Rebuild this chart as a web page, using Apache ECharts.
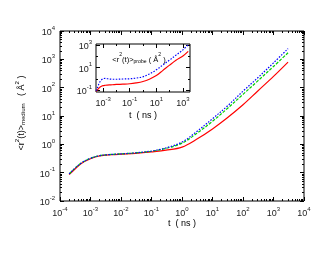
<!DOCTYPE html>
<html><head><meta charset="utf-8">
<script src="https://cdn.jsdelivr.net/npm/echarts@6/dist/echarts.min.js"></script>
<style>html,body{margin:0;padding:0;background:#fff}#c{width:330px;height:255px}</style>
</head><body><div id="c"></div>
<script>
// ---- data ----
const mainTime  = [2e-4,3e-4,5e-4,1e-3,2e-3,5e-3,1e-2,3e-2,0.1,0.3,1,3,10,30,100,300,1000,3000];
const mainBlue  = [0.09,0.14,0.22,0.32,0.40,0.44,0.46,0.50,0.58,0.75,1.2,2.8,8,22,75,220,750,2400];
const mainGreen = [0.09,0.14,0.22,0.32,0.40,0.44,0.46,0.50,0.57,0.72,1.1,2.4,6.5,18,58,170,560,1700];
const mainRed   = [0.085,0.13,0.21,0.31,0.39,0.43,0.45,0.48,0.54,0.62,0.8,1.5,3.5,8.5,25,75,250,800];

const insetTime = [3e-4,4e-4,5e-4,7e-4,1e-3,1.5e-3,2e-3,3e-3,5e-3,1e-2,3e-2,0.1,0.3,1,3,10,30,100,300,1000,2500];
const insetBlue = [0.09,0.2,0.4,0.75,1.05,1.15,1.1,1.0,0.95,0.95,1.0,1.05,1.2,1.6,2.8,6.5,17,48,130,380,1100];
const insetRed  = [0.08,0.12,0.16,0.22,0.26,0.28,0.29,0.30,0.31,0.33,0.35,0.38,0.45,0.6,0.95,2.0,5.5,17,45,110,280];

const mainXExp  = [-4,-3,-2,-1,0,1,2,3,4];
const mainYExp  = [-2,-1,0,1,2,3,4];
const insetXExp = [-3,-1,1,3];
const insetYExp = [-1,1,3];
const insetXMinorExp = [-2,0,2];
const insetYMinorExp = [0,2];

// ---- helpers ----
const FONT = 'Liberation Sans';
const TXT = '#222';
const rich = {
  b: {fontSize: 9, fontFamily: FONT, color: TXT, lineHeight: 12, verticalAlign: 'bottom'},
  s: {fontSize: 6, fontFamily: FONT, color: TXT, lineHeight: 5, verticalAlign: 'top'}
};
function lab(v){ return '{b|10}{s|' + Math.round(v) + '}'; }
function minorOf(lo, hi){
  const out = [];
  for (let n = Math.floor(lo); n < Math.ceil(hi); n++)
    for (let k = 2; k <= 9; k++){ const v = n + Math.log10(k); if (v > lo && v < hi) out.push(v); }
  return out;
}
function pts(t, v){ return t.map((x, i) => [Math.log10(x), Math.log10(v[i])]); }
const tickStyle = {color: '#000', width: 1};

function axisSet(grid, min, max, majors, minors, sides, labelMargin){
  const arr = [];
  sides.forEach((pos, si) => {
    arr.push({type:'value', gridIndex:grid, position:pos, min, max,
      axisLine:{show:false, onZero:false}, splitLine:{show:false},
      axisTick:{show:true, inside:true, length:4, customValues:majors, lineStyle:tickStyle},
      axisLabel:si === 0 ? {show:true, customValues:majors, formatter:lab, rich, margin:labelMargin} : {show:false}});
    arr.push({type:'value', gridIndex:grid, position:pos, min, max,
      axisLine:{show:false, onZero:false}, splitLine:{show:false},
      axisTick:{show:true, inside:true, length:2, customValues:minors, lineStyle:tickStyle},
      axisLabel:{show:false}});
  });
  return arr;
}

const xAxes = [
  ...axisSet(0, -4, 4, mainXExp, minorOf(-4, 4), ['bottom','top'], 5),
  ...axisSet(1, -3.53, 3.53, insetXExp, insetXMinorExp, ['bottom','top'], 4)
];
const yAxes = [
  ...axisSet(0, -2, 4, mainYExp, minorOf(-2, 4), ['left','right'], 5),
  ...axisSet(1, -1.15, 3.1, insetYExp, insetYMinorExp, ['left','right'], 4)
];

function mkRich(fs){
  return {
    t:  {fontSize: fs, fontFamily: FONT, color: TXT, lineHeight: 12, verticalAlign: 'bottom'},
    sup:{fontSize: fs*0.68, fontFamily: FONT, color: TXT, lineHeight: 5, verticalAlign: 'top'},
    sub:{fontSize: fs*0.68, fontFamily: FONT, color: TXT, lineHeight: 5, verticalAlign: 'bottom'}
  };
}

function line(name, data, color, type, xi, yi){
  return {type:'line', name, data, xAxisIndex:xi, yAxisIndex:yi, showSymbol:false, smooth:0.35,
    lineStyle:{color, width:1.2, type}, animation:false, silent:true};
}

const chart = echarts.init(document.getElementById('c'), null, {renderer:'canvas'});
chart.setOption({
  animation:false,
  backgroundColor:'#fff',
  grid:[
    {left:60, right:26, top:31, bottom:54, show:true, borderColor:'#000', borderWidth:1, backgroundColor:'transparent'},
    {left:96, right:140, top:44, bottom:163, show:true, borderColor:'#000', borderWidth:1, backgroundColor:'#fff'}
  ],
  xAxis:xAxes,
  yAxis:yAxes,
  series:[
    line('red', pts(mainTime, mainRed), '#ff0000', 'solid', 0, 0),
    line('green', pts(mainTime, mainGreen), '#00d000', [3,1.5], 0, 0),
    line('blue', pts(mainTime, mainBlue), '#0000ff', [1.5,1.5], 0, 0),
    line('probe red', pts(insetTime, insetRed), '#ff0000', 'solid', 4, 4),
    line('probe blue', pts(insetTime, insetBlue), '#0000ff', [1.5,1.5], 4, 4)
  ],
  graphic:[
    {type:'text', x:20, y:113, rotation:Math.PI/2, z:10,
      style:{text:'{t|<r}{sup|2}{t|(t)>}{sub|medium}{t|   ( Å}{sup|2}{t| )}', rich:mkRich(9), align:'center', verticalAlign:'middle'}},
    {type:'text', x:182, y:222, z:10,
      style:{text:'{t|t  ( ns )}', rich:mkRich(9), align:'center', verticalAlign:'middle'}},
    {type:'text', x:143, y:114, z:10,
      style:{text:'{t|t  ( ns )}', rich:mkRich(9), align:'center', verticalAlign:'middle'}},
    {type:'text', x:139, y:58, z:10,
      style:{text:'{t|<r}{sup|2}{t|(t)>}{sub|probe}{t| ( Å}{sup|2}{t| )}', rich:mkRich(7.5), align:'center', verticalAlign:'middle'}}
  ]
});
</script></body></html>
